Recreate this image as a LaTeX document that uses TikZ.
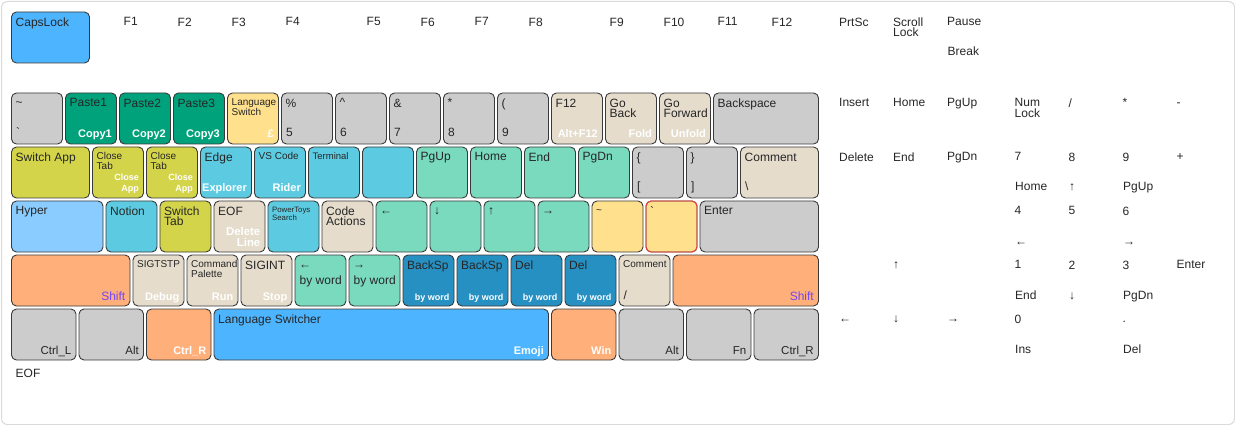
\documentclass[tikz,border=0pt]{standalone}
\usepackage{fontspec}
\setmainfont{Liberation Sans}[Ligatures=TeXOff]
\definecolor{ink}{HTML}{262626}
\definecolor{keyline}{HTML}{3A3A3A}
\definecolor{framec}{HTML}{DADADA}
\definecolor{cgray}{HTML}{CCCCCC}
\definecolor{cgreen}{HTML}{00A27B}
\definecolor{cyel}{HTML}{FFE08C}
\definecolor{cbeige}{HTML}{E5DCCC}
\definecolor{cyg}{HTML}{D4D44A}
\definecolor{ccyan}{HTML}{5CCBE1}
\definecolor{cmint}{HTML}{79DABE}
\definecolor{cblue}{HTML}{4DB5FF}
\definecolor{clblue}{HTML}{8ACCFF}
\definecolor{corange}{HTML}{FFAF7A}
\definecolor{cdblue}{HTML}{2690C3}
\definecolor{cred}{HTML}{FF3B3B}
\definecolor{cpurple}{HTML}{7346F5}
\tikzset{
  every node/.append style={font=\fontsize{12}{10.5}\selectfont},
  key/.style={draw=keyline, line width=0.9pt, rounded corners=5pt, minimum height=51pt, inner sep=0pt, outer sep=0pt},
  ghost/.style={minimum height=51pt, inner sep=0pt, outer sep=0pt},
  tl/.style={anchor=north west, inner sep=0pt, align=left, text=ink},
  br/.style={anchor=base east, inner sep=0pt, text=white, font=\bfseries\fontsize{11}{10}\selectfont},
  brd/.style={text=ink, font=\fontsize{11.5}{10.5}\selectfont},
  bl/.style={anchor=base west, inner sep=0pt, text=ink},
  sm/.style={font=\fontsize{10}{9.3}\selectfont},
  xs/.style={font=\fontsize{7.8}{8.3}\selectfont},
  bsm/.style={font=\bfseries\fontsize{9}{9}\selectfont},
  purp/.style={text=cpurple, font=\fontsize{12}{10.5}\selectfont},
}
\newcommand\Key[5]{\node[key,fill=#5,minimum width={#4*54-3},anchor=north west] (#1) at ({11.5+#2*54},#3) {};}
\newcommand\Gh[4]{\node[ghost,minimum width={#4*54-3},anchor=north west] (#1) at ({11.5+#2*54},#3) {};}
\newcommand\TL[3][]{\node[tl,#1] (#2-t) at ([shift={(4,5.5)}]#2.north west) {\vphantom{H}#3};}
\newcommand\BR[3][]{\node[br,#1] (#2-b) at ([shift={(-4.5,-6)}]#2.south east) {#3};}
\newcommand\BRtwo[5][]{\node[br,#1] (#2-b) at ([shift={(-4.5,-6)}]#2.south east) {#4};\node[br,#1] (#2-c) at ([shift={(0,-#5)}]#2-b.base east) {#3};}
\newcommand\BL[3][]{\node[bl,#1] (#2-l) at ([shift={(4.5,-7)}]#2.south west) {#3};}
\def\rowA{12}\def\rowB{93}\def\rowC{147}\def\rowD{201}\def\rowE{255}\def\rowF{309}\def\rowG{363}
\begin{document}
\begin{tikzpicture}[x=1pt,y=-1pt]
\useasboundingbox (0,0) rectangle (1235,425);
\node[draw=framec, line width=1pt, rounded corners=6pt, minimum width=1233pt, minimum height=423pt, inner sep=0pt, anchor=north west] (frame) at (1,1) {};
% row 0
\Key{caps}{0}{\rowA}{1.5}{cblue}\TL{caps}{CapsLock}
\Gh{fa}{2}{\rowA}{1}\TL{fa}{F1}
\Gh{fb}{3}{\rowA}{1}\TL{fb}{F2}
\Gh{fc}{4}{\rowA}{1}\TL{fc}{F3}
\Gh{fd}{5}{\rowA}{1}\TL{fd}{F4}
\Gh{fe}{6.5}{\rowA}{1}\TL{fe}{F5}
\Gh{ff}{7.5}{\rowA}{1}\TL{ff}{F6}
\Gh{fg}{8.5}{\rowA}{1}\TL{fg}{F7}
\Gh{fh}{9.5}{\rowA}{1}\TL{fh}{F8}
\Gh{fi}{11}{\rowA}{1}\TL{fi}{F9}
\Gh{fj}{12}{\rowA}{1}\TL{fj}{F10}
\Gh{fk}{13}{\rowA}{1}\TL{fk}{F11}
\Gh{fl}{14}{\rowA}{1}\TL{fl}{F12}
\Gh{prt}{15.25}{\rowA}{1}\TL{prt}{PrtSc}
\Gh{scl}{16.25}{\rowA}{1}\TL{scl}{Scroll\\Lock}
\Gh{pau}{17.25}{\rowA}{1}\TL{pau}{Pause}\BL{pau}{Break}
% row 1
\Key{tilk}{0}{\rowB}{1}{cgray}\TL{tilk}{\textasciitilde}\BL{tilk}{`}
\Key{pa}{1}{\rowB}{1}{cgreen}\TL{pa}{Paste1}\BR{pa}{Copy1}
\Key{pb}{2}{\rowB}{1}{cgreen}\TL{pb}{Paste2}\BR{pb}{Copy2}
\Key{pc}{3}{\rowB}{1}{cgreen}\TL{pc}{Paste3}\BR{pc}{Copy3}
\Key{lsw}{4}{\rowB}{1}{cyel}\TL[sm]{lsw}{Language\\Switch}\BR{lsw}{£}
\Key{dv}{5}{\rowB}{1}{cgray}\TL{dv}{\%}\BL{dv}{5}
\Key{dw}{6}{\rowB}{1}{cgray}\TL{dw}{\textasciicircum}\BL{dw}{6}
\Key{dx}{7}{\rowB}{1}{cgray}\TL{dx}{\&}\BL{dx}{7}
\Key{dy}{8}{\rowB}{1}{cgray}\TL{dy}{*}\BL{dy}{8}
\Key{dz}{9}{\rowB}{1}{cgray}\TL{dz}{(}\BL{dz}{9}
\Key{ftw}{10}{\rowB}{1}{cbeige}\TL{ftw}{F12}\BR{ftw}{Alt+F12}
\Key{gob}{11}{\rowB}{1}{cbeige}\TL{gob}{Go\\Back}\BR{gob}{Fold}
\Key{gof}{12}{\rowB}{1}{cbeige}\TL{gof}{Go\\Forward}\BR{gof}{Unfold}
\Key{bksp}{13}{\rowB}{2}{cgray}\TL{bksp}{Backspace}
\Gh{ins}{15.25}{\rowB}{1}\TL{ins}{Insert}
\Gh{hmk}{16.25}{\rowB}{1}\TL{hmk}{Home}
\Gh{puk}{17.25}{\rowB}{1}\TL{puk}{PgUp}
\Gh{nlk}{18.5}{\rowB}{1}\TL{nlk}{Num\\Lock}
\Gh{nsl}{19.5}{\rowB}{1}\TL{nsl}{/}
\Gh{nst}{20.5}{\rowB}{1}\TL{nst}{*}
\Gh{nmi}{21.5}{\rowB}{1}\TL{nmi}{-}
% row 2
\Key{swa}{0}{\rowC}{1.5}{cyg}\TL{swa}{Switch App}
\Key{cta}{1.5}{\rowC}{1}{cyg}\TL[sm]{cta}{Close\\Tab}\BRtwo[bsm]{cta}{Close}{App}{11}
\Key{ctb}{2.5}{\rowC}{1}{cyg}\TL[sm]{ctb}{Close\\Tab}\BRtwo[bsm]{ctb}{Close}{App}{11}
\Key{edg}{3.5}{\rowC}{1}{ccyan}\TL{edg}{Edge}\BR{edg}{Explorer}
\Key{vsc}{4.5}{\rowC}{1}{ccyan}\TL[sm]{vsc}{VS Code}\BR{vsc}{Rider}
\Key{trm}{5.5}{\rowC}{1}{ccyan}\TL[font=\fontsize{9.5}{9}\selectfont]{trm}{Terminal}
\Key{blk}{6.5}{\rowC}{1}{ccyan}
\Key{pgu}{7.5}{\rowC}{1}{cmint}\TL{pgu}{PgUp}
\Key{hom}{8.5}{\rowC}{1}{cmint}\TL{hom}{Home}
\Key{enk}{9.5}{\rowC}{1}{cmint}\TL{enk}{End}
\Key{pgd}{10.5}{\rowC}{1}{cmint}\TL{pgd}{PgDn}
\Key{lbr}{11.5}{\rowC}{1}{cgray}\TL{lbr}{\{}\BL{lbr}{[}
\Key{rbr}{12.5}{\rowC}{1}{cgray}\TL{rbr}{\}}\BL{rbr}{]}
\Key{cmm}{13.5}{\rowC}{1.5}{cbeige}\TL{cmm}{Comment}\BL{cmm}{\textbackslash}
\Gh{dlk}{15.25}{\rowC}{1}\TL{dlk}{Delete}
\Gh{edk}{16.25}{\rowC}{1}\TL{edk}{End}
\Gh{pdk}{17.25}{\rowC}{1}\TL{pdk}{PgDn}
\Gh{npg}{18.5}{\rowC}{1}\TL{npg}{7}\BL{npg}{Home}
\Gh{nph}{19.5}{\rowC}{1}\TL{nph}{8}\BL{nph}{↑}
\Gh{npi}{20.5}{\rowC}{1}\TL{npi}{9}\BL{npi}{PgUp}
\Gh{npl}{21.5}{\rowC}{1}\TL{npl}{+}
% row 3
\Key{hyp}{0}{\rowD}{1.75}{clblue}\TL{hyp}{Hyper}
\Key{ntn}{1.75}{\rowD}{1}{ccyan}\TL{ntn}{Notion}
\Key{swt}{2.75}{\rowD}{1}{cyg}\TL{swt}{Switch\\Tab}
\Key{eof}{3.75}{\rowD}{1}{cbeige}\TL{eof}{EOF}\BRtwo[font=\bfseries\fontsize{11.4}{10}\selectfont]{eof}{Delete}{Line}{10.5}
\Key{pts}{4.75}{\rowD}{1}{ccyan}\TL[xs]{pts}{PowerToys\\Search}
\Key{cda}{5.75}{\rowD}{1}{cbeige}\TL{cda}{Code\\Actions}
\Key{arl}{6.75}{\rowD}{1}{cmint}\TL{arl}{←}
\Key{ard}{7.75}{\rowD}{1}{cmint}\TL{ard}{↓}
\Key{aru}{8.75}{\rowD}{1}{cmint}\TL{aru}{↑}
\Key{arr}{9.75}{\rowD}{1}{cmint}\TL{arr}{→}
\Key{tld}{10.75}{\rowD}{1}{cyel}\TL[sm]{tld}{\textasciitilde}
\Key{grv}{11.75}{\rowD}{1}{cyel}\draw[cred, line width=0.9pt, rounded corners=5pt] (grv.north west) rectangle (grv.south east);\TL{grv}{`}
\Key{ent}{12.75}{\rowD}{2.25}{cgray}\TL{ent}{Enter}
\Gh{npd}{18.5}{\rowD}{1}\TL{npd}{4}\BL{npd}{←}
\Gh{npe}{19.5}{\rowD}{1}\TL{npe}{5}
\Gh{npf}{20.5}{\rowD}{1}\TL{npf}{6}\BL{npf}{→}
% row 4
\Key{lsh}{0}{\rowE}{2.25}{corange}\BR[purp]{lsh}{Shift}
\Key{sts}{2.25}{\rowE}{1}{cbeige}\TL[sm]{sts}{SIGTSTP}\BR{sts}{Debug}
\Key{cpl}{3.25}{\rowE}{1}{cbeige}\TL[sm]{cpl}{Command\\Palette}\BR{cpl}{Run}
\Key{sgi}{4.25}{\rowE}{1}{cbeige}\TL{sgi}{SIGINT}\BR{sgi}{Stop}
\Key{lwd}{5.25}{\rowE}{1}{cmint}\TL{lwd}{←}\node[bl] (lwd-m) at ([shift={(4.5,29.5)}]lwd.north west) {by word};
\Key{rwd}{6.25}{\rowE}{1}{cmint}\TL{rwd}{→}\node[bl] (rwd-m) at ([shift={(4.5,29.5)}]rwd.north west) {by word};
\Key{bsa}{7.25}{\rowE}{1}{cdblue}\TL{bsa}{BackSp}\BR[bsm]{bsa}{by word}
\Key{bsb}{8.25}{\rowE}{1}{cdblue}\TL{bsb}{BackSp}\BR[bsm]{bsb}{by word}
\Key{dla}{9.25}{\rowE}{1}{cdblue}\TL{dla}{Del}\BR[bsm]{dla}{by word}
\Key{dlb}{10.25}{\rowE}{1}{cdblue}\TL{dlb}{Del}\BR[bsm]{dlb}{by word}
\Key{cms}{11.25}{\rowE}{1}{cbeige}\TL[sm]{cms}{Comment}\BL{cms}{/}
\Key{rsh}{12.25}{\rowE}{2.75}{corange}\BR[purp]{rsh}{Shift}
\Gh{auk}{16.25}{\rowE}{1}\TL{auk}{↑}
\Gh{npa}{18.5}{\rowE}{1}\TL{npa}{1}\BL{npa}{End}
\Gh{npb}{19.5}{\rowE}{1}\TL{npb}{2}\BL{npb}{↓}
\Gh{npc}{20.5}{\rowE}{1}\TL{npc}{3}\BL{npc}{PgDn}
\Gh{npn}{21.5}{\rowE}{1}\TL{npn}{Enter}
% row 5
\Key{ctl}{0}{\rowF}{1.25}{cgray}\BR[brd]{ctl}{Ctrl\_L}
\Key{alt}{1.25}{\rowF}{1.25}{cgray}\BR[brd]{alt}{Alt}
\Key{ctr}{2.5}{\rowF}{1.25}{corange}\BR{ctr}{Ctrl\_R}
\Key{spc}{3.75}{\rowF}{6.25}{cblue}\TL{spc}{Language Switcher}\BR{spc}{Emoji}
\Key{win}{10}{\rowF}{1.25}{corange}\BR{win}{Win}
\Key{ral}{11.25}{\rowF}{1.25}{cgray}\BR[brd]{ral}{Alt}
\Key{fnk}{12.5}{\rowF}{1.25}{cgray}\BR[brd]{fnk}{Fn}
\Key{rct}{13.75}{\rowF}{1.25}{cgray}\BR[brd]{rct}{Ctrl\_R}
\Gh{alk}{15.25}{\rowF}{1}\TL{alk}{←}
\Gh{adk}{16.25}{\rowF}{1}\TL{adk}{↓}
\Gh{ark}{17.25}{\rowF}{1}\TL{ark}{→}
\Gh{npz}{18.5}{\rowF}{2}\TL{npz}{0}\BL{npz}{Ins}
\Gh{npo}{20.5}{\rowF}{1}\TL{npo}{.}\BL{npo}{Del}
% row 6
\Gh{gst}{0}{\rowG}{1}\TL{gst}{EOF}
\end{tikzpicture}
\end{document}
